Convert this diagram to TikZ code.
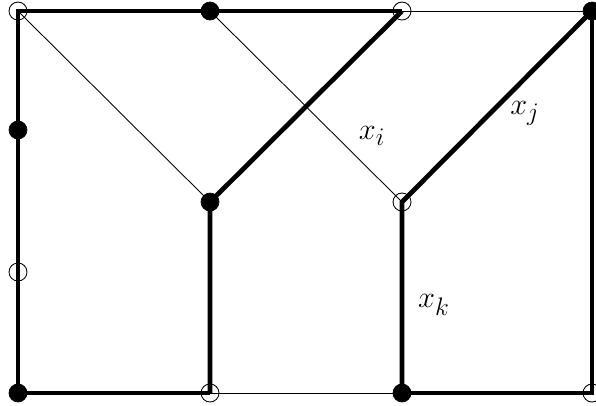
\documentclass[tikz,border=0pt]{standalone}
\usepackage{tikz}
\usetikzlibrary{positioning}
\tikzset{
  vfull/.style ={circle, draw=black, fill=black, inner sep=0pt, minimum size=0.36cm},
  vopen/.style ={circle, draw=black, line width=0.5pt, inner sep=0pt, minimum size=0.36cm},
  heavy/.style ={line width=2.7pt, line join=miter},
  light/.style ={line width=0.5pt},
  lbl/.style   ={font=\fontsize{19}{22}\selectfont, inner sep=0pt}
}

\begin{document}
\begin{tikzpicture}
\useasboundingbox (0,0) rectangle (11.92,-8.1);
% vertices, column by column
\node[vopen] (a1) at (0.36,-0.22) {};
\node[vfull] (a2) at (0.36,-2.6) {};
\node[vopen] (a3) at (0.36,-5.44) {};
\node[vfull] (a4) at (0.36,-7.86) {};
\node[vfull] (b1) at (4.2,-0.22) {};
\node[vfull] (b2) at (4.2,-4.04) {};
\node[vopen] (b3) at (4.2,-7.86) {};
\node[vopen] (c1) at (8.04,-0.22) {};
\node[vopen] (c2) at (8.04,-4.04) {};
\node[vfull] (c3) at (8.04,-7.86) {};
\node[vfull] (d1) at (11.84,-0.22) {};
\node[vopen] (d3) at (11.84,-7.86) {};
% thin edges
\draw[light] (a1.center) -- (b2.center);
\draw[light] (b1.center) -- (c2.center);
\draw[light] (c1.center) -- (d1.center);
\draw[light] (b3.center) -- (c3.center);
% thick edges
\draw[heavy] (b3.center) -- (a4.center) -- (a3.center) -- (a2.center) -- (a1.center)
   -- (b1.center) -- (c1.center);
\draw[heavy] (c1.center) -- (b2.center) -- (b3.center);
\draw[heavy] (d1.center) -- (c2.center) -- (c3.center);
\draw[heavy] (c3.center) -- (d3.center) -- (d1.center);
% labels
\node[lbl] (xi) at (7.44,-2.72) {$x_i$};
\node[lbl] (xj) at (10.5,-2.26) {$x_j$};
\node[lbl] (xk) at (8.68,-6.1) {$x_k$};
\end{tikzpicture}
\end{document}
